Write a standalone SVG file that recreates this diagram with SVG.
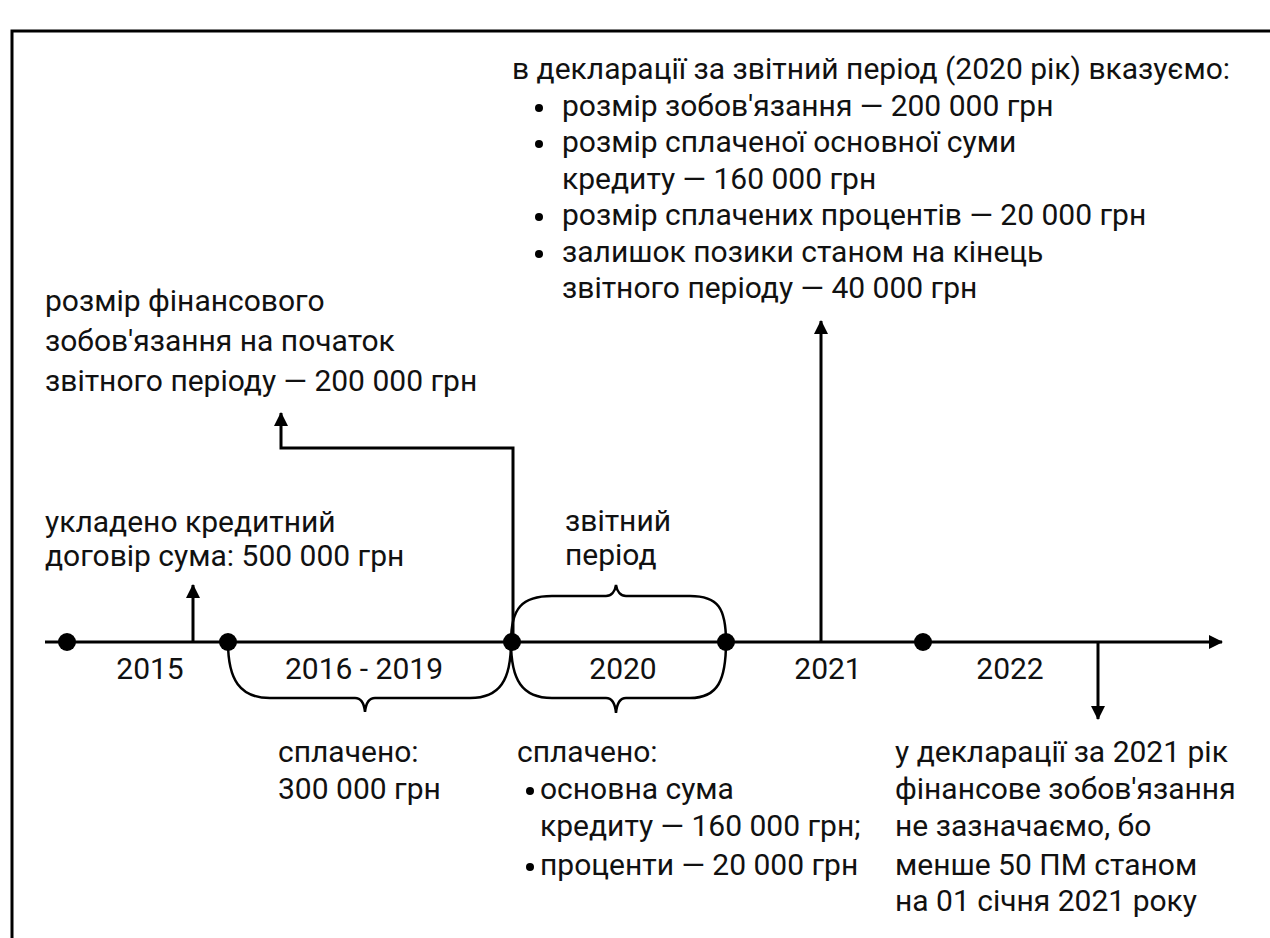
<svg xmlns="http://www.w3.org/2000/svg" width="1270" height="938" viewBox="0 0 1270 938">
<style>
text{font-family:Roboto,"Noto Sans",sans-serif;font-size:30px;fill:#111}
.yr{text-anchor:middle}
.ln{stroke:#000;stroke-width:3;fill:none}
.br{stroke:#000;stroke-width:2.5;fill:none}
.dot{fill:#000}
</style>
<defs>
<marker id="ah" markerUnits="userSpaceOnUse" markerWidth="16" markerHeight="16" viewBox="0 0 16 16" refX="14" refY="8" orient="auto">
<path d="M1,1 L15,8 L1,15 Z" fill="#000"/>
</marker>
</defs>
<rect width="1270" height="938" fill="#fff"/>
<g id="frame">
<path class="ln" d="M12,938 V31 H1270" stroke-width="3.5"/>
</g>
<g id="connectors">
<line class="ln" x1="45" y1="642" x2="1222" y2="642" marker-end="url(#ah)"/>
<line class="ln" x1="193" y1="642" x2="193" y2="585" marker-end="url(#ah)"/>
<polyline class="ln" points="513,642 513,448 281,448 281,413" marker-end="url(#ah)"/>
<line class="ln" x1="821" y1="642" x2="821" y2="321" marker-end="url(#ah)"/>
<line class="ln" x1="1098" y1="642" x2="1098" y2="719" marker-end="url(#ah)"/>
<path class="br" d="M228,642 C228,680 240,698 270,698 H355 C360,698 364,702 365,712 C366,702 370,698 375,698 H470 C500,698 511,680 511,642"/>
<path class="br" d="M511,642 C511,680 522,698 552,698 H606 C611,698 615,702 616,713 C617,702 621,698 626,698 H690 C718,698 726,680 726,642"/>
<path class="br" d="M511,642 C511,608 522,596 552,596 H606 C611,596 615,592 616,585 C617,592 621,596 626,596 H690 C718,596 726,608 726,642"/>
</g>
<g id="dots">
<circle class="dot" cx="67" cy="642" r="9"/>
<circle class="dot" cx="228" cy="642" r="9"/>
<circle class="dot" cx="512" cy="642" r="9"/>
<circle class="dot" cx="726" cy="642" r="9"/>
<circle class="dot" cx="923" cy="642" r="9"/>
</g>
<g id="years">
<text class="yr" x="150" y="679">2015</text>
<text class="yr" x="364" y="679">2016 - 2019</text>
<text class="yr" x="623" y="679">2020</text>
<text class="yr" x="828" y="679">2021</text>
<text class="yr" x="1010" y="679">2022</text>
</g>
<g id="declaration-2020">
<text x="512" y="79">в декларації за звітний період (2020 рік) вказуємо:</text>
<circle class="dot" cx="539" cy="108" r="4"/>
<text x="562" y="116">розмір зобов'язання — 200 000 грн</text>
<circle class="dot" cx="539" cy="144" r="4"/>
<text x="562" y="152">розмір сплаченої основної суми</text>
<text x="562" y="189">кредиту — 160 000 грн</text>
<circle class="dot" cx="539" cy="217" r="4"/>
<text x="562" y="225">розмір сплачених процентів — 20 000 грн</text>
<circle class="dot" cx="539" cy="254" r="4"/>
<text x="562" y="262">залишок позики станом на кінець</text>
<text x="562" y="298">звітного періоду — 40 000 грн</text>
</g>
<g id="start-liability">
<text x="45" y="311">розмір фінансового</text>
<text x="45" y="351">зобов'язання на початок</text>
<text x="45" y="391">звітного періоду — 200 000 грн</text>
</g>
<g id="contract">
<text x="45" y="532">укладено кредитний</text>
<text x="45" y="566">договір сума: 500 000 грн</text>
</g>
<g id="period">
<text x="565" y="531">звітний</text>
<text x="565" y="565">період</text>
</g>
<g id="paid-2016-2019">
<text x="278" y="762">сплачено:</text>
<text x="278" y="799">300 000 грн</text>
</g>
<g id="paid-2020">
<text x="517" y="762">сплачено:</text>
<circle class="dot" cx="530" cy="791" r="4"/>
<text x="540" y="799">основна сума</text>
<text x="540" y="836">кредиту — 160 000 грн;</text>
<circle class="dot" cx="530" cy="867" r="4"/>
<text x="540" y="875">проценти — 20 000 грн</text>
</g>
<g id="declaration-2021">
<text x="895" y="762">у декларації за 2021 рік</text>
<text x="895" y="799">фінансове зобов'язання</text>
<text x="895" y="836">не зазначаємо, бо</text>
<text x="895" y="875">менше 50 ПМ станом</text>
<text x="895" y="911">на 01 січня 2021 року</text>
</g>
</svg>
